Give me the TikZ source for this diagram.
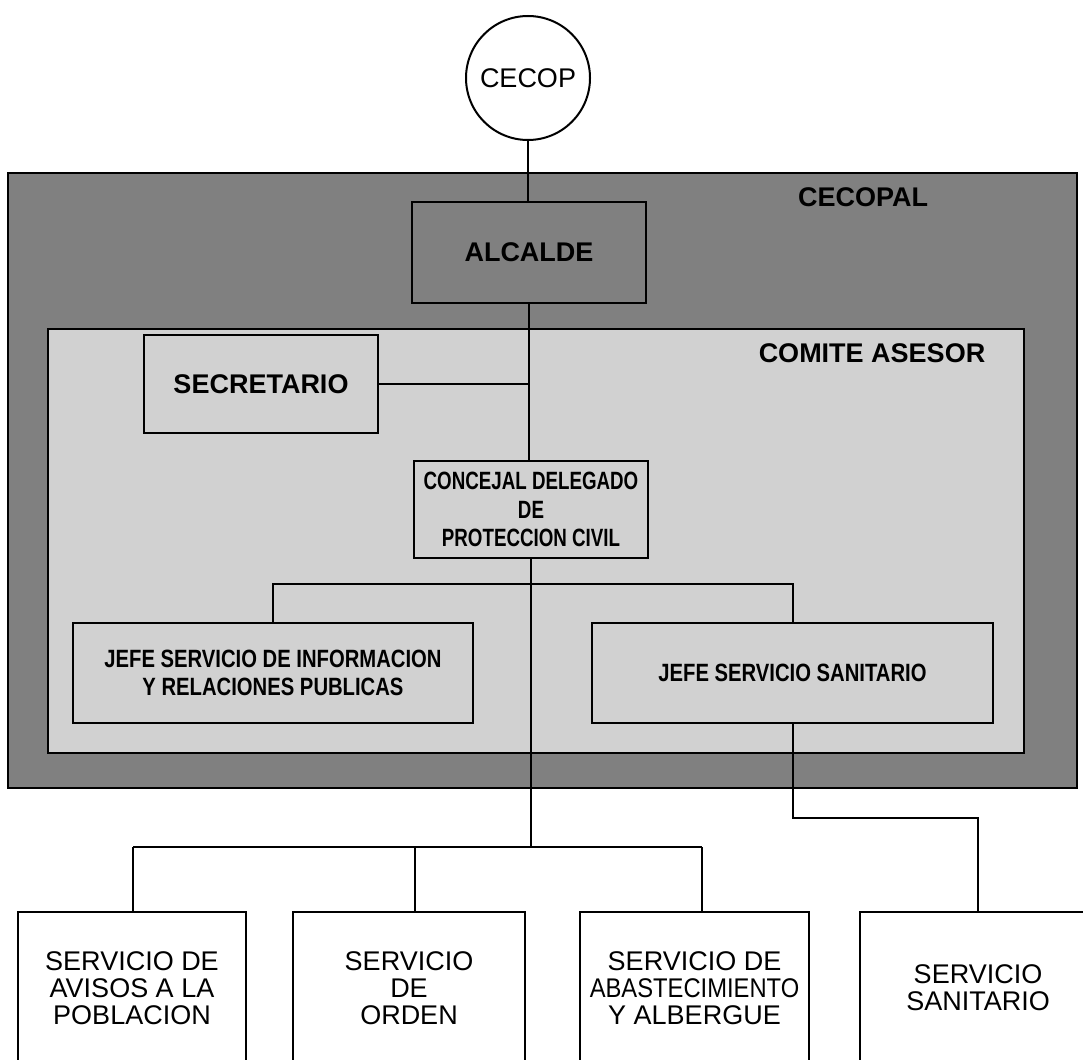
\documentclass[tikz,border=0pt]{standalone}
\usepackage{fontspec}
\setmainfont{Liberation Sans}
\newfontfamily\narrowfont[FakeStretch=0.81]{Liberation Sans}
\newfontfamily\narrowerfont[FakeStretch=0.75]{Liberation Sans}
\newfontfamily\squeezefont[FakeStretch=0.88]{Liberation Sans}
\definecolor{darkfill}{gray}{0.50}
\definecolor{lightfill}{gray}{0.82}
\begin{document}
\begin{tikzpicture}[x=1pt,y=-1pt,
  bigbox/.style={draw, rectangle, line width=2.6pt, inner sep=0pt},
  box/.style={draw, rectangle, line width=2.4pt, inner sep=0pt, align=center},
  boldtext/.style={font=\bfseries\fontsize{27}{29}\selectfont},
  narrowtext/.style={font=\narrowfont\bfseries\fontsize{25}{28.5}\selectfont},
  narrowertext/.style={font=\narrowerfont\bfseries\fontsize{25}{28.5}\selectfont},
  sbox/.style={draw, rectangle, line width=2pt, inner sep=0pt, align=center, fill=white,
               minimum height=152pt, font=\fontsize{27}{27}\selectfont},
  conn/.style={draw, line width=2pt}]
\clip (0,0) rectangle (1083,1059);
\fill[white] (0,0) rectangle (1083,1059);

% outer CECOPAL region
\node[bigbox, fill=darkfill, minimum width=1069pt, minimum height=615pt] (cecopal) at (542.5,480.5) {};
\node[boldtext, inner sep=0pt] (cecopallbl) at (863,197) {CECOPAL};

% CECOP circle
\node[circle, draw, line width=2pt, fill=white, minimum size=124pt, inner sep=0pt,
      font=\fontsize{27}{29}\selectfont] (cecop) at (528,78) {CECOP};

% ALCALDE
\node[box, boldtext, fill=darkfill, minimum width=234pt, minimum height=101pt] (alcalde) at (529,252.5) {ALCALDE};

% COMITE ASESOR region
\node[bigbox, fill=lightfill, minimum width=976pt, minimum height=424pt] (comite) at (536,541) {};
\node[boldtext, inner sep=0pt] (comitelbl) at (872,353) {COMITE ASESOR};

% connectors
\draw[conn] (cecop.south) -- (cecop.south |- alcalde.north);
\draw[conn] (alcalde.south) -- (alcalde.south |- 0,461);
\coordinate (busC) at (531,847);
\coordinate (b1) at (133,847);
\coordinate (b2) at (415,847);
\coordinate (b3) at (702,847);

% inner boxes
\node[box, boldtext, fill=lightfill, minimum width=234pt, minimum height=98pt] (secretario) at (261,384) {SECRETARIO};
\coordinate (sj) at (alcalde.south |- secretario.east);
\draw[conn] (secretario.east) -- (sj);

\node[box, narrowertext, fill=lightfill, minimum width=234pt, minimum height=97pt] (concejal) at (531,509.5)
  {CONCEJAL DELEGADO\\DE\\PROTECCION CIVIL};

\node[box, narrowtext, fill=lightfill, minimum width=400pt, minimum height=100pt] (jinfo) at (273,673)
  {JEFE SERVICIO DE INFORMACION\\Y RELACIONES PUBLICAS};
\node[box, narrowtext, fill=lightfill, minimum width=401pt, minimum height=100pt] (jsan) at (792.5,673)
  {JEFE SERVICIO SANITARIO};

\draw[conn] (jinfo.north) -- ++(0,-38) -| (jsan.north);
\draw[conn] (concejal.south) -- (concejal.south |- busC);

% bottom services
\node[sbox, minimum width=228pt] (s1) at (132,988) {SERVICIO DE\\AVISOS A LA\\POBLACION};
\node[sbox, minimum width=232pt] (s2) at (409,988) {SERVICIO\\DE\\ORDEN};
\node[sbox, minimum width=229pt] (s3) at (694.5,988) {SERVICIO DE\\{\squeezefont ABASTECIMIENTO}\\Y ALBERGUE};
\node[sbox, minimum width=236pt] (s4) at (978,988) {SERVICIO\\SANITARIO};

\draw[conn] (b1) -- (b3);
\draw[conn] (b1) -- (b1 |- s1.north);
\draw[conn] (b2) -- (b2 |- s2.north);
\draw[conn] (b3) -- (b3 |- s3.north);
\draw[conn] (jsan.south) -- ++(0,94) -| (s4.north);
\end{tikzpicture}
\end{document}
